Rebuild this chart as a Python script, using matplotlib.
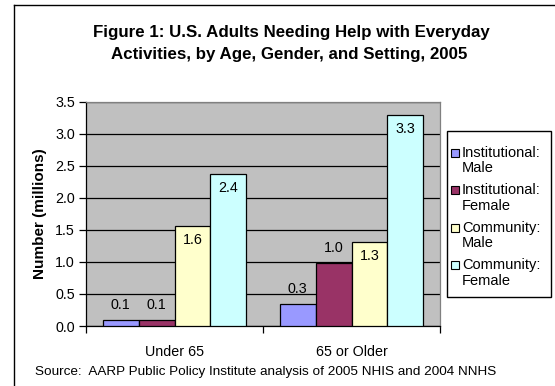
import matplotlib
matplotlib.use("Agg")
import matplotlib.pyplot as plt
from matplotlib.patches import Rectangle
from matplotlib.lines import Line2D
import numpy as np

plt.rcParams['font.family'] = ['Liberation Sans', 'DejaVu Sans']

categories = ["Under 65", "65 or Older"]
series_names = ["Institutional:\nMale", "Institutional:\nFemale", "Community:\nMale", "Community:\nFemale"]
inst_male = [0.09, 0.34]
inst_female = [0.09, 0.99]
comm_male = [1.56, 1.31]
comm_female = [2.37, 3.30]
series = [inst_male, inst_female, comm_male, comm_female]
colors = ["#9999FF", "#993366", "#FFFFCC", "#CCFFFF"]
label_inside = [False, False, True, True]
yticks = [0.0, 0.5, 1.0, 1.5, 2.0, 2.5, 3.0, 3.5]

W, H = 555, 386
fig = plt.figure(figsize=(W / 100, H / 100), dpi=100)
ax = fig.add_axes([86 / W, 1 - 326 / H, (440 - 86) / W, (326 - 101.7) / H])
ax.set_facecolor("#C0C0C0")

x = np.arange(len(categories))
bw = 0.202
for i, vals in enumerate(series):
    pos = x + (i - 1.5) * bw
    bars = ax.bar(pos, vals, width=bw, color=colors[i], edgecolor="black", linewidth=0.9, zorder=3)
    for b, v in zip(bars, vals):
        if label_inside[i]:
            off, va = -7, "top"
        else:
            off, va = 8, "bottom"
        ax.annotate(f"{v:.1f}", (b.get_x() + b.get_width() / 2, v), xytext=(0, off),
                    textcoords="offset pixels", ha="center", va=va, fontsize=10.3, zorder=4)

ax.set_xlim(-0.5, 1.5)
ax.set_ylim(0, 3.5)
ax.set_yticks(yticks)
ax.set_yticklabels([f"{t:.1f}" for t in yticks], fontsize=10.3)
ax.yaxis.grid(True, color="black", linewidth=0.9, zorder=1)
ax.set_axisbelow(True)
ax.set_xticks([-0.5, 0.5, 1.5])
ax.set_xticklabels([])
ax.set_xticks(x, minor=True)
ax.set_xticklabels(categories, minor=True, fontsize=10.3)
ax.tick_params(axis="x", which="minor", length=0, pad=14)
ax.tick_params(axis="x", which="major", length=5, width=0.9, direction="out")
ax.tick_params(axis="y", length=5, width=0.9, direction="out", pad=3)
for s in ["left", "bottom"]:
    ax.spines[s].set_color("black")
    ax.spines[s].set_linewidth(0.9)
for s in ["top", "right"]:
    ax.spines[s].set_color("#808080")
    ax.spines[s].set_linewidth(0.9)
ax.set_ylabel("Number (millions)", fontsize=11, fontweight="bold", labelpad=6)

fig.text(291 / W, 1 - 33 / H, "Figure 1: U.S. Adults Needing Help with Everyday", ha="center", va="center",
         fontsize=12.2, fontweight="bold")
fig.text(289 / W, 1 - 55 / H, "Activities, by Age, Gender, and Setting, 2005", ha="center", va="center",
         fontsize=12.2, fontweight="bold")
fig.text(35 / W, 1 - 372 / H, "Source:  AARP Public Policy Institute analysis of 2005 NHIS and 2004 NNHS",
         ha="left", va="center", fontsize=9.7)

# figure border (left and top visible)
fig.add_artist(Line2D([13.5 / W, 13.5 / W], [0, 1 - 4.5 / H], transform=fig.transFigure, color="black", lw=1))
fig.add_artist(Line2D([13.5 / W, 1], [1 - 4.5 / H, 1 - 4.5 / H], transform=fig.transFigure, color="black", lw=1))

# legend
lx0, ly0, lx1, ly1 = 447, 131.5, 551, 297
fig.add_artist(Rectangle((lx0 / W, 1 - ly1 / H), (lx1 - lx0) / W, (ly1 - ly0) / H, transform=fig.transFigure,
                         facecolor="white", edgecolor="black", lw=1))
for i, name in enumerate(series_names):
    yc = 152.7 + i * 37.5
    fig.add_artist(Rectangle((451 / W, 1 - (yc + 4) / H), 8 / W, 8 / H, transform=fig.transFigure,
                             facecolor=colors[i], edgecolor="black", lw=0.8))
    l1, l2 = name.split("\n")
    fig.text(462 / W, 1 - yc / H, l1, ha="left", va="center", fontsize=10.5)
    fig.text(462 / W, 1 - (yc + 15.5) / H, l2, ha="left", va="center", fontsize=10.5)

fig.savefig("out.png", dpi=100)
